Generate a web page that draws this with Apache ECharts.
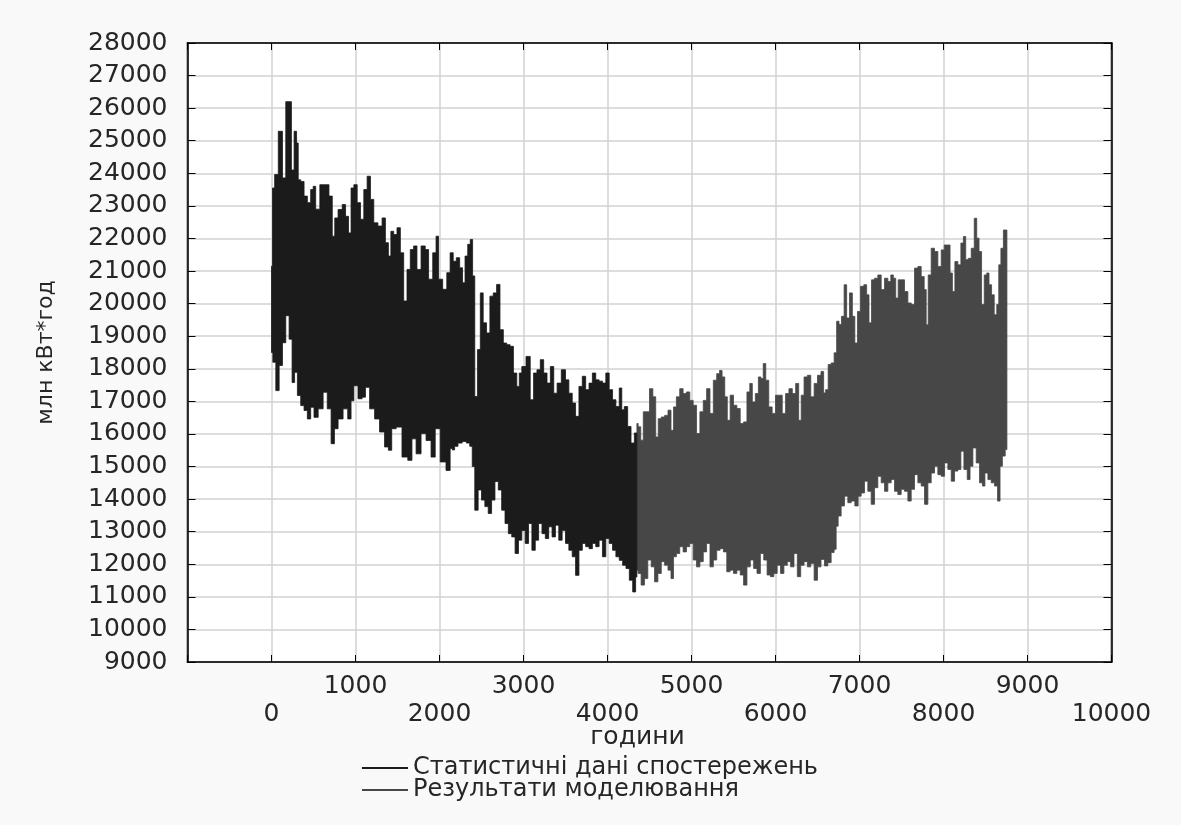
<!DOCTYPE html>
<html>
<head>
<meta charset="utf-8">
<script src="https://cdn.jsdelivr.net/npm/echarts@6/dist/echarts.min.js"></script>
<style>
html,body{margin:0;padding:0;background:#f9f9f9;}
#c{width:1181px;height:825px;}
</style>
</head>
<body>
<div id="c"></div>
<script>
// ---- Axis settings ----
const X_MIN = -1000, X_MAX = 10000, X_STEP = 1000;
const Y_MIN = 9000, Y_MAX = 28000, Y_STEP = 1000;
const X_NAME = 'години';
const Y_NAME = 'млн кВт*год';
const OBS_NAME = 'Статистичні дані спостережень';
const MOD_NAME = 'Результати моделювання';

// ---- Observed data: upper / lower envelope of the hourly series ----
const obsUpH = [0,24,51,111,150,190,225,249,289,308,328,368,407,447,486,506,546,605,664,704,743,763,822,862,901,933,961,1000,1040,1079,1119,1158,1198,1237,1297,1336,1376,1407,1435,1474,1514,1554,1593,1633,1672,1712,1751,1810,1850,1890,1949,1969,2008,2067,2107,2146,2180,2220,2260,2288,2320,2352,2380,2408,2432,2472,2500,2540,2580,2620,2660,2700,2740,2780,2820,2860,2900,2940,2960,3000,3060,3100,3140,3180,3220,3260,3300,3340,3380,3420,3480,3520,3560,3600,3640,3680,3720,3760,3800,3840,3880,3920,3960,4000,4040,4080,4120,4160,4180,4220,4260,4300,4340,4350];
const obsUpV = [21150,23550,23960,25290,23860,26200,26200,24100,25290,24930,23800,23750,23300,23100,23500,23600,22900,23650,23650,23300,22070,22630,22890,23040,22680,22170,23550,23650,23100,22590,23500,23910,23200,22480,22380,22630,21870,21460,22220,22120,22330,21560,20080,21050,21660,21770,21050,21770,21660,20750,21560,22070,20750,20440,20950,21560,21300,21410,21100,20640,21460,21820,21970,20850,17150,18590,20330,19410,19100,20230,20330,20590,19200,18790,18740,18690,17870,17460,17870,18070,18380,17050,17870,17970,18280,17870,17560,18070,17250,17560,17970,17660,17250,16950,16540,17460,17770,17360,17560,17870,17660,17620,17560,17870,17360,17050,16840,17410,16740,16840,16230,15720,16030,16030];
const obsLoH = [0,32,71,111,150,190,229,261,289,328,368,407,447,486,526,585,644,684,735,763,822,882,933,961,1000,1059,1099,1138,1198,1257,1316,1376,1407,1455,1514,1593,1652,1692,1751,1810,1870,1929,1969,2048,2107,2146,2160,2200,2240,2300,2340,2380,2400,2440,2480,2520,2560,2600,2640,2680,2720,2760,2800,2840,2880,2920,2960,3000,3040,3080,3120,3160,3200,3240,3280,3320,3360,3400,3440,3480,3520,3560,3600,3640,3680,3720,3760,3800,3840,3880,3920,3960,4000,4040,4080,4120,4160,4200,4240,4280,4320,4350];
const obsLoV = [18500,18200,17330,18100,18800,19630,18910,17580,17890,17180,16870,16720,16460,16820,16510,16770,17280,16770,15700,16160,16460,16770,16460,17020,17480,17080,17130,17430,16770,16460,16060,15600,15500,16160,16210,15290,15190,15850,15390,16010,15800,15290,16160,15140,14880,15550,15510,15620,15720,15770,15720,15620,15000,13660,14280,13970,13770,13560,13970,14540,14280,13660,13250,12940,12840,12330,12740,13040,12640,13250,12430,12740,13250,12940,12790,13150,12840,13200,12740,13040,12640,12430,12230,11660,12430,12640,12540,12480,12640,12540,12740,12230,12790,12640,12430,12230,12120,11970,11870,11510,11150,11610];

// ---- Model data: upper / lower envelope ----
const modUpH = [4350,4380,4412,4440,4480,4520,4560,4588,4620,4660,4700,4740,4772,4800,4840,4880,4920,4960,5000,5040,5080,5120,5160,5200,5240,5280,5320,5348,5380,5412,5440,5480,5520,5560,5600,5640,5680,5708,5740,5780,5812,5840,5868,5900,5940,5980,6020,6060,6100,6140,6180,6220,6260,6292,6320,6360,6400,6440,6480,6520,6563,6583,6611,6643,6682,6714,6742,6770,6801,6833,6861,6901,6929,6960,6992,7032,7071,7099,7127,7159,7199,7238,7278,7318,7357,7389,7417,7445,7476,7516,7556,7596,7635,7675,7715,7754,7786,7802,7834,7873,7913,7953,7993,8024,8064,8092,8120,8151,8191,8223,8251,8278,8310,8350,8382,8409,8437,8469,8501,8528,8556,8588,8620,8648,8668,8699,8727,8755];
const modUpV = [16320,16220,15810,16680,16680,17390,17140,15910,16470,16520,16570,16730,16110,16830,17140,17390,17240,17290,17030,16880,16010,16680,17030,17390,16630,17650,17850,17950,17750,17140,16420,17190,16880,16780,16320,16370,17290,17550,16980,17240,17750,17700,18160,17650,16830,16630,17190,17190,16630,17240,17390,17240,17550,16420,17190,17750,17800,17140,17550,17800,17920,17260,17360,18130,18180,18490,19460,19360,19610,20580,19560,20330,19610,18790,19760,20530,20580,20270,19410,20730,20780,20880,20430,20780,20680,20880,20780,20170,20730,20730,20370,20020,19970,21090,21140,20830,20430,19350,20880,21700,21600,21140,21650,21800,21800,20940,20370,21290,21190,21860,22060,21350,21390,21700,22620,22010,21600,19970,20880,20940,20580,20270,19660,19970,21190,21700,22260,22260];
const modLoH = [4350,4380,4420,4460,4500,4540,4580,4620,4660,4700,4740,4772,4800,4840,4880,4920,4960,5000,5040,5080,5120,5160,5200,5240,5280,5320,5360,5400,5440,5480,5520,5560,5600,5640,5680,5720,5760,5800,5840,5880,5920,5960,6000,6040,6080,6120,6160,6200,6240,6280,6320,6360,6400,6440,6480,6520,6563,6603,6643,6682,6714,6730,6762,6801,6841,6881,6921,6968,7000,7040,7079,7119,7159,7199,7238,7278,7318,7357,7397,7437,7476,7516,7556,7596,7635,7675,7715,7754,7794,7834,7873,7913,7953,7993,8032,8072,8112,8151,8191,8223,8263,8302,8330,8370,8409,8449,8477,8509,8548,8588,8628,8659,8687,8715,8755];
const modLoV = [11820,11720,11360,11560,12130,11920,11460,11720,12080,11970,11820,11560,12230,12330,12540,12380,12540,12640,12130,11920,12080,12380,12640,11920,12130,12430,12480,12380,11770,11820,11720,11820,11670,11360,11920,12130,11870,11720,12330,12130,11670,11620,11720,11970,11720,11970,12080,11920,12330,11620,11970,12080,11920,12020,11510,11920,12150,11950,12050,12360,12460,13170,13480,13790,14090,13890,13940,13790,14090,14190,14550,14240,13840,14350,14700,14500,14240,14500,14600,14240,14140,14300,14240,13940,14300,14750,14500,14400,13840,14500,14800,15010,14750,14700,15110,14910,14550,14860,14910,15470,14910,14600,15010,15570,15110,14500,14400,14800,14600,14500,14400,13940,15010,15320,15520];

const OBS_COLOR = '#1b1b1b';
const MOD_COLOR = '#474747';
const FONT = 'DejaVu Sans';
const TXT = '#262626';

function stepPoints(xs, vs, reverse) {
  const pts = [];
  const n = xs.length;
  for (let i = 0; i < n; i++) {
    const a = i === 0 ? xs[0] : (xs[i - 1] + xs[i]) / 2;
    const b = i === n - 1 ? xs[n - 1] : (xs[i] + xs[i + 1]) / 2;
    pts.push([a, vs[i]], [b, vs[i]]);
  }
  return reverse ? pts.reverse() : pts;
}
function makeBand(upH, upV, loH, loV, color) {
  const poly = stepPoints(upH, upV, false).concat(stepPoints(loH, loV, true));
  return function (params, api) {
    if (params.dataIndex !== 0) return null;
    return {
      type: 'polygon',
      shape: { points: poly.map(p => api.coord(p)) },
      style: { fill: color, stroke: color, lineWidth: 0.8 }
    };
  };
}
function pairs(hs, vs) { return hs.map((h, i) => [h, vs[i]]); }

const chart = echarts.init(document.getElementById('c'));
const baseX = { type: 'value', min: X_MIN, max: X_MAX, interval: X_STEP };
const labelStyle = { fontFamily: FONT, fontSize: 25, color: TXT };
const edgeLine = { show: true, onZero: false, lineStyle: { color: '#000', width: 1.5 } };
const inTick = { show: true, inside: true, length: 7, lineStyle: { color: '#000', width: 1 } };

chart.setOption({
  backgroundColor: '#f9f9f9',
  animation: false,
  grid: { left: 187.5, right: 69.5, top: 43, bottom: 163, show: true, backgroundColor: '#ffffff', borderColor: '#000', borderWidth: 1.5, containLabel: false },
  legend: [
    { data: [{ name: OBS_NAME, icon: 'rect' }], orient: 'vertical', left: 362, top: 756, itemWidth: 46, itemHeight: 2, selectedMode: false, padding: 0, textStyle: { fontFamily: FONT, fontSize: 24, color: TXT } },
    { data: [{ name: MOD_NAME, icon: 'rect' }], orient: 'vertical', left: 362, top: 778, itemWidth: 46, itemHeight: 2, selectedMode: false, padding: 0, textStyle: { fontFamily: FONT, fontSize: 24, color: TXT } }
  ],
  xAxis: [
    Object.assign({}, baseX, {
      position: 'bottom',
      name: X_NAME, nameLocation: 'middle', nameGap: 63,
      nameTextStyle: { fontFamily: FONT, fontSize: 25, color: TXT, padding: [0, 24, 0, 0] },
      axisLine: edgeLine,
      axisTick: inTick,
      splitLine: { show: true, lineStyle: { color: '#d2d2d2', width: 1.5 } },
      axisLabel: Object.assign({}, labelStyle, { margin: 12, formatter: v => (v >= 0 && (v / 1000) % 2 === 1) ? String(v) : '' })
    }),
    Object.assign({}, baseX, {
      position: 'bottom', offset: 28,
      axisLine: { show: false, onZero: false }, axisTick: { show: false }, splitLine: { show: false },
      axisLabel: Object.assign({}, labelStyle, { margin: 12, formatter: v => (v >= 0 && (v / 1000) % 2 === 0) ? String(v) : '' })
    }),
    Object.assign({}, baseX, {
      position: 'top',
      axisLine: edgeLine,
      axisTick: inTick,
      splitLine: { show: false }, axisLabel: { show: false }
    })
  ],
  yAxis: [
    {
      type: 'value', min: Y_MIN, max: Y_MAX, interval: Y_STEP, position: 'left',
      name: Y_NAME, nameLocation: 'middle', nameRotate: 90, nameGap: 130,
      nameTextStyle: { fontFamily: FONT, fontSize: 22, color: TXT },
      axisLine: edgeLine,
      axisTick: Object.assign({}, inTick, { length: 8 }),
      splitLine: { show: true, lineStyle: { color: '#d2d2d2', width: 1.5 } },
      axisLabel: Object.assign({}, labelStyle, { margin: 20, formatter: v => String(v) })
    },
    {
      type: 'value', min: Y_MIN, max: Y_MAX, interval: Y_STEP, position: 'right',
      axisLine: edgeLine,
      axisTick: Object.assign({}, inTick, { length: 8 }),
      splitLine: { show: false }, axisLabel: { show: false }
    }
  ],
  series: [
    {
      name: OBS_NAME, type: 'custom', xAxisIndex: 0, yAxisIndex: 0,
      itemStyle: { color: OBS_COLOR },
      encode: { x: 0, y: 1 },
      data: pairs(obsUpH, obsUpV).concat(pairs(obsLoH, obsLoV)),
      renderItem: makeBand(obsUpH, obsUpV, obsLoH, obsLoV, OBS_COLOR),
      z: 3
    },
    {
      name: MOD_NAME, type: 'custom', xAxisIndex: 0, yAxisIndex: 0,
      itemStyle: { color: MOD_COLOR },
      encode: { x: 0, y: 1 },
      data: pairs(modUpH, modUpV).concat(pairs(modLoH, modLoV)),
      renderItem: makeBand(modUpH, modUpV, modLoH, modLoV, MOD_COLOR),
      z: 2
    }
  ]
});
</script>
</body>
</html>
